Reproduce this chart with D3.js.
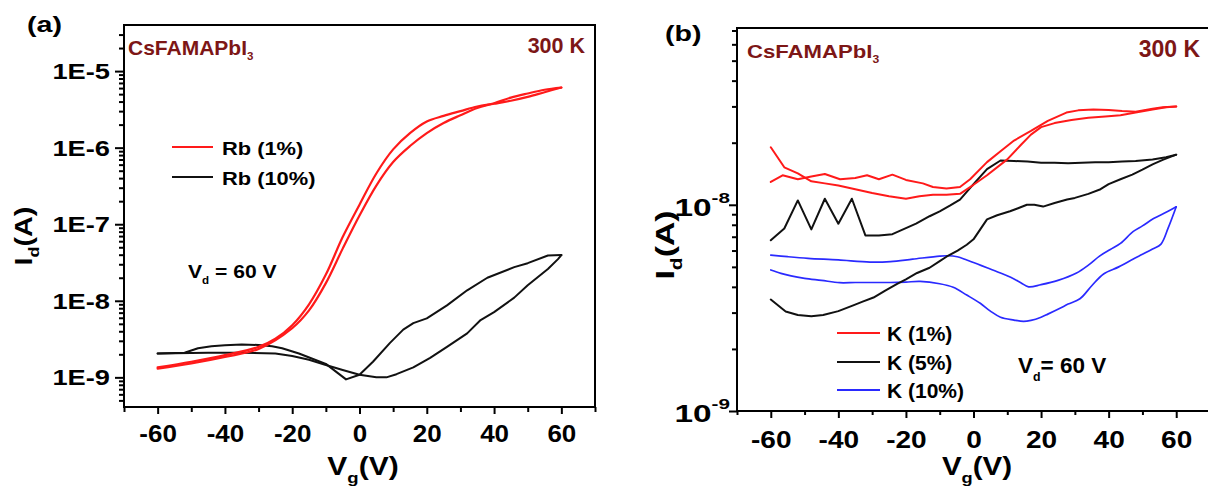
<!DOCTYPE html>
<html>
<head>
<meta charset="utf-8">
<script src="https://cdn.jsdelivr.net/npm/d3@7"></script>
<style>
  html, body { margin: 0; padding: 0; background: #fff; }
  svg { display: block; font-family: "Liberation Sans", Arial, sans-serif; font-weight: bold; }
</style>
</head>
<body>
<svg id="chart" width="1208" height="491"></svg>
<script>
// ---------- Panel (a): Rb-doped CsFAMAPbI3, transfer curves (Id vs Vg) ----------
const vgRb1Fwd = [-60, -50, -40, -30, -25, -20, -15, -10, -5, 0, 5, 10, 15, 20, 25, 30, 35, 40, 45, 50, 55, 60];
const idRb1Fwd = [1.35e-9, 1.6e-9, 1.95e-9, 2.5e-9, 3.2e-9, 4.8e-9, 9e-9, 2.2e-8, 6.8e-8, 1.8e-7, 4.6e-7, 9.5e-7, 1.55e-6, 2.2e-6, 2.6e-6, 3.0e-6, 3.45e-6, 3.75e-6, 4.1e-6, 4.6e-6, 5.3e-6, 6.1e-6];
const vgRb1Rev = [60, 55, 50, 45, 40, 35, 30, 25, 20, 15, 10, 5, 0, -5, -10, -15, -20, -30, -40, -50, -60];
const idRb1Rev = [6.1e-6, 5.7e-6, 5.1e-6, 4.5e-6, 3.8e-6, 3.3e-6, 2.65e-6, 2.1e-6, 1.55e-6, 1.05e-6, 6.5e-7, 3.2e-7, 1.3e-7, 4.8e-8, 1.7e-8, 7.5e-9, 4.4e-9, 2.35e-9, 1.85e-9, 1.52e-9, 1.3e-9];

const vgRb10Fwd = [-60, -52, -48, -44, -40, -35, -30, -26, -23, -18, -14, -10, -4, 0, 4, 9, 13, 16, 20, 26, 32, 38, 46, 50, 56, 60];
const idRb10Fwd = [2.05e-9, 2.1e-9, 2.4e-9, 2.55e-9, 2.62e-9, 2.68e-9, 2.65e-9, 2.55e-9, 2.4e-9, 2.05e-9, 1.75e-9, 1.5e-9, 0.94e-9, 1.08e-9, 1.6e-9, 2.8e-9, 4.2e-9, 5.1e-9, 5.9e-9, 8.7e-9, 1.37e-8, 2.0e-8, 2.75e-8, 3.1e-8, 3.9e-8, 3.95e-8];
const vgRb10Rev = [60, 59, 56, 50, 46, 40, 36, 32, 26, 21, 16, 11, 8, 5, 0, -5, -10, -15, -20, -25, -35, -45, -60];
const idRb10Rev = [3.95e-8, 3.5e-8, 2.6e-8, 1.6e-8, 1.1e-8, 7.1e-9, 5.6e-9, 3.75e-9, 2.5e-9, 1.8e-9, 1.35e-9, 1.1e-9, 1.0e-9, 1.0e-9, 1.08e-9, 1.25e-9, 1.45e-9, 1.7e-9, 1.9e-9, 2.05e-9, 2.1e-9, 2.1e-9, 2.05e-9];

// ---------- Panel (b): K-doped CsFAMAPbI3 ----------
const vgK1A = [-60, -56.5, -52, -48, -44, -39.5, -35, -31.5, -28, -24, -20, -15, -12, -8, -4, -1, 4, 8, 12, 17, 22, 27.5, 31, 35.5, 40, 44, 48, 53, 56, 60];
const idK1A = [1.29e-8, 1.39e-8, 1.33e-8, 1.37e-8, 1.41e-8, 1.33e-8, 1.35e-8, 1.39e-8, 1.33e-8, 1.4e-8, 1.32e-8, 1.27e-8, 1.22e-8, 1.2e-8, 1.22e-8, 1.33e-8, 1.61e-8, 1.82e-8, 2.05e-8, 2.28e-8, 2.55e-8, 2.8e-8, 2.87e-8, 2.9e-8, 2.88e-8, 2.85e-8, 2.83e-8, 2.92e-8, 2.97e-8, 3.0e-8];
const vgK1B = [-60, -56, -52, -48, -44, -40, -35, -30, -25, -20, -16, -12, -8, -4, 0, 4, 10, 14, 17, 20, 24, 29, 34, 39, 43.5, 48, 53, 57, 60];
const idK1B = [1.9e-8, 1.52e-8, 1.42e-8, 1.3e-8, 1.27e-8, 1.24e-8, 1.19e-8, 1.14e-8, 1.1e-8, 1.07e-8, 1.1e-8, 1.12e-8, 1.12e-8, 1.13e-8, 1.25e-8, 1.39e-8, 1.66e-8, 1.95e-8, 2.19e-8, 2.38e-8, 2.49e-8, 2.58e-8, 2.64e-8, 2.68e-8, 2.72e-8, 2.8e-8, 2.9e-8, 2.97e-8, 3.0e-8];

const vgK5Up = [-60, -56, -52, -48, -44, -40, -36, -32, -28, -24, -20, -17, -13, -10, -7, -4, 0, 4, 8, 12, 16, 20, 24, 28, 32, 36, 40, 44, 48, 53, 57, 60];
const idK5Up = [6.73e-9, 7.67e-9, 1.05e-8, 7.6e-9, 1.07e-8, 8.1e-9, 1.07e-8, 7.1e-9, 7.1e-9, 7.2e-9, 7.7e-9, 8.1e-9, 8.8e-9, 9.3e-9, 9.9e-9, 1.06e-8, 1.26e-8, 1.49e-8, 1.64e-8, 1.63e-8, 1.62e-8, 1.6e-8, 1.6e-8, 1.59e-8, 1.6e-8, 1.61e-8, 1.61e-8, 1.62e-8, 1.63e-8, 1.66e-8, 1.7e-8, 1.75e-8];
const vgK5Down = [60, 56, 53, 50, 47, 43.5, 40, 37.6, 34, 30, 27.7, 24, 20.6, 18, 15.8, 13, 10.8, 7, 4, 2, 0, -2, -4.7, -8, -10, -13, -16.7, -20, -22.6, -26, -29.6, -33, -35.6, -40, -44.5, -48, -52, -55.6, -60];
const idK5Down = [1.75e-8, 1.65e-8, 1.57e-8, 1.48e-8, 1.4e-8, 1.33e-8, 1.26e-8, 1.19e-8, 1.13e-8, 1.08e-8, 1.06e-8, 1.02e-8, 9.8e-9, 1.0e-8, 1.0e-8, 9.6e-9, 9.3e-9, 8.9e-9, 8.5e-9, 7.6e-9, 6.8e-9, 6.4e-9, 6.0e-9, 5.6e-9, 5.33e-9, 4.95e-9, 4.67e-9, 4.35e-9, 4.14e-9, 3.85e-9, 3.55e-9, 3.38e-9, 3.25e-9, 3.05e-9, 2.92e-9, 2.88e-9, 2.92e-9, 3.04e-9, 3.47e-9];

const vgK10Up = [-60, -55, -49, -40, -30.6, -24.6, -18, -10, -7.8, -4.8, -2, 1.2, 4, 8, 11, 14, 16.3, 20, 25, 30.5, 34, 37.3, 40.5, 43.5, 47.3, 50, 53.3, 57, 60];
const idK10Up = [5.7e-9, 5.6e-9, 5.5e-9, 5.4e-9, 5.27e-9, 5.3e-9, 5.45e-9, 5.64e-9, 5.66e-9, 5.6e-9, 5.4e-9, 5.16e-9, 4.95e-9, 4.67e-9, 4.45e-9, 4.19e-9, 4.0e-9, 4.1e-9, 4.3e-9, 4.67e-9, 5.1e-9, 5.64e-9, 6.07e-9, 6.5e-9, 7.43e-9, 7.9e-9, 8.57e-9, 9.2e-9, 9.78e-9];
const vgK10Down = [60, 57.6, 55.5, 53, 50, 47.3, 43, 38.5, 35, 31.5, 28, 25.6, 22, 20, 17, 14.8, 12, 8, 5, 2, -2, -6, -10, -15.8, -20, -24.6, -30, -35, -39.6, -45, -50, -54, -57, -60];
const idK10Down = [9.78e-9, 7.7e-9, 6.45e-9, 6.1e-9, 5.75e-9, 5.46e-9, 5.0e-9, 4.62e-9, 4.05e-9, 3.5e-9, 3.3e-9, 3.15e-9, 2.95e-9, 2.85e-9, 2.75e-9, 2.72e-9, 2.76e-9, 2.85e-9, 3.05e-9, 3.33e-9, 3.65e-9, 3.98e-9, 4.14e-9, 4.25e-9, 4.22e-9, 4.2e-9, 4.2e-9, 4.2e-9, 4.19e-9, 4.3e-9, 4.4e-9, 4.52e-9, 4.65e-9, 4.83e-9];

// Tick values
const vgTicks = [-70, -60, -50, -40, -30, -20, -10, 0, 10, 20, 30, 40, 50, 60, 70];
const vgLabelled = [-60, -40, -20, 0, 20, 40, 60];
const decadesA = [1e-9, 1e-8, 1e-7, 1e-6, 1e-5];
const decadesB = [1e-9, 1e-8];

const RED = "#ff1a1a", BLACK = "#111", BLUE = "#2a2aff", DARK_RED = "#7d1616";

const svg = d3.select("#chart");

// Text with optional sub/superscript parts; sx stretches horizontally.
function label(parent, x, y, parts, o = {}) {
  const size = o.size || 20, sx = o.sx || 1, rot = o.rotate || 0;
  const t = parent.append("text")
    .attr("transform", `translate(${x},${y}) rotate(${rot}) scale(${sx},1)`)
    .attr("text-anchor", o.anchor || "start")
    .attr("fill", o.color || "#000")
    .style("font-size", size + "px");
  let shift = 0;
  parts.forEach(p => {
    const part = typeof p === "string" ? { t: p } : p;
    let target = 0, fs = size;
    if (part.sub) { target = size * (part.off || 0.3); fs = size * (part.scale || 0.6); }
    if (part.sup) { target = -size * (part.off || 0.45); fs = size * (part.scale || 0.65); }
    t.append("tspan").text(part.t)
      .attr("dy", target - shift)
      .style("font-size", fs + "px");
    shift = target;
  });
  return t;
}

function minorTicks(decades, domain) {
  const out = [];
  decades.concat([decades[decades.length - 1] * 10, decades[0] / 10]).forEach(d => {
    for (let k = 2; k <= 9; k++) {
      const v = d * k;
      if (v > domain[0] && v < domain[1]) out.push(v);
    }
  });
  return out;
}

function panel(cfg) {
  const g = svg.append("g");
  const x = d3.scaleLinear().domain([-70, 70]).range([cfg.left, cfg.right]);
  const y = d3.scaleLog().domain(cfg.yDomain).range([cfg.bottom, cfg.top]);

  // bottom axis: ticks every 10 V, labels every 20 V
  const xMinor = g.append("g").attr("transform", `translate(0,${cfg.bottom})`)
    .call(d3.axisBottom(x).tickValues(vgTicks.filter(v => !vgLabelled.includes(v))).tickSize(cfg.xMinorLen).tickFormat(""));
  const xMajor = g.append("g").attr("transform", `translate(0,${cfg.bottom})`)
    .call(d3.axisBottom(x).tickValues(vgLabelled).tickSize(cfg.xMajorLen).tickFormat(d => String(d)));
  xMajor.selectAll("text")
    .attr("x", 0).attr("y", cfg.xLabelDy).attr("dy", 0)
    .attr("transform", `scale(${cfg.xLabelSx},1)`)
    .attr("fill", "#000")
    .style("font-size", cfg.xLabelSize + "px");

  // left axis: decades plus minor ticks
  const yMinor = g.append("g").attr("transform", `translate(${cfg.left},0)`)
    .call(d3.axisLeft(y).tickValues(minorTicks(cfg.decades, cfg.yDomain)).tickSize(cfg.yMinorLen).tickFormat(""));
  const yMajor = g.append("g").attr("transform", `translate(${cfg.left},0)`)
    .call(d3.axisLeft(y).tickValues(cfg.decades).tickSize(cfg.yMajorLen).tickFormat(""));

  [xMinor, xMajor, yMinor, yMajor].forEach(a => {
    a.select(".domain").remove();
    a.selectAll("line").attr("stroke", "#000").attr("stroke-width", 2);
  });

  // frame
  g.append("rect")
    .attr("x", cfg.left).attr("y", cfg.top)
    .attr("width", cfg.right - cfg.left).attr("height", cfg.bottom - cfg.top)
    .attr("fill", "none").attr("stroke", "#000").attr("stroke-width", 2);

  // curves
  const plot = g.append("g");
  cfg.series.forEach(s => {
    const pts = s.vg.map((v, i) => [v, s.id[i]]);
    const line = d3.line().x(d => x(d[0])).y(d => y(d[1])).curve(s.curve || d3.curveLinear);
    plot.append("path").attr("d", line(pts))
      .attr("fill", "none").attr("stroke", s.color).attr("stroke-width", s.width || 2)
      .attr("stroke-linejoin", "round").attr("stroke-linecap", "round");
  });

  return { g, x, y };
}

// ---------------- Panel (a) ----------------
const A = panel({
  left: 124, right: 595, top: 25, bottom: 407,
  yDomain: [4.1e-10, 4e-5], decades: decadesA,
  xMinorLen: 5, xMajorLen: 7, yMinorLen: 5, yMajorLen: 9,
  xLabelDy: 35, xLabelSx: 1.13, xLabelSize: 23,
  series: [
    { vg: vgRb10Fwd, id: idRb10Fwd, color: BLACK, width: 2 },
    { vg: vgRb10Rev, id: idRb10Rev, color: BLACK, width: 2 },
    { vg: vgRb1Fwd, id: idRb1Fwd, color: RED, width: 2.2, curve: d3.curveCatmullRom.alpha(0.5) },
    { vg: vgRb1Rev, id: idRb1Rev, color: RED, width: 2.2, curve: d3.curveCatmullRom.alpha(0.5) }
  ]
});
decadesA.forEach(d => {
  label(A.g, A.x.range()[0] - 14, A.y(d) + 8, ["1E" + Math.round(Math.log10(d))], { size: 22, sx: 1.24, anchor: "end" });
});
label(A.g, 27, 32, ["(a)"], { size: 22, sx: 1.3 });
label(A.g, 128, 55, ["CsFAMAPbI", { t: "3", sub: true, off: 0.25, scale: 0.55 }], { size: 21, color: DARK_RED });
label(A.g, 585, 53, ["300 K"], { size: 21.5, color: DARK_RED, anchor: "end" });
label(A.g, 363, 475, ["V", { t: "g", sub: true, off: 0.3, scale: 0.62 }, "(V)"], { size: 25, sx: 1.2, anchor: "middle" });
label(A.g, 32, 236, ["I", { t: "d", sub: true, off: 0.3, scale: 0.62 }, "(A)"], { size: 23, sx: 1.25, anchor: "middle", rotate: -90 });
label(A.g, 188, 278, ["V", { t: "d", sub: true, off: 0.35, scale: 0.55 }, " = 60 V"], { size: 18.5, sx: 1.14 });
// legend (a)
[["Rb (1%)", RED, 147], ["Rb (10%)", BLACK, 177]].forEach(([name, col, ly]) => {
  A.g.append("line").attr("x1", 172).attr("x2", 213).attr("y1", ly).attr("y2", ly)
    .attr("stroke", col).attr("stroke-width", 2);
  label(A.g, 222, ly + 7.5, [name], { size: 19, sx: 1.15 });
});

// ---------------- Panel (b) ----------------
const B = panel({
  left: 737, right: 1210, top: 28, bottom: 411,
  yDomain: [1e-9, 7.2e-8], decades: decadesB,
  xMinorLen: 4, xMajorLen: 7, yMinorLen: 5, yMajorLen: 8,
  xLabelDy: 37, xLabelSx: 1.22, xLabelSize: 23,
  series: [
    { vg: vgK10Up, id: idK10Up, color: BLUE, width: 1.7, curve: d3.curveCatmullRom.alpha(0.5) },
    { vg: vgK10Down, id: idK10Down, color: BLUE, width: 1.7, curve: d3.curveCatmullRom.alpha(0.5) },
    { vg: vgK5Up, id: idK5Up, color: BLACK, width: 2 },
    { vg: vgK5Down, id: idK5Down, color: BLACK, width: 2 },
    { vg: vgK1A, id: idK1A, color: RED, width: 2 },
    { vg: vgK1B, id: idK1B, color: RED, width: 2 }
  ]
});
decadesB.forEach(d => {
  label(B.g, B.x.range()[0] - 7, B.y(d) + 11, ["10", { t: String(Math.round(Math.log10(d))), sup: true, off: 0.55, scale: 0.62 }], { size: 23.5, sx: 1.42, anchor: "end" });
});
label(B.g, 665, 41, ["(b)"], { size: 22, sx: 1.3 });
label(B.g, 747, 58, ["CsFAMAPbI", { t: "3", sub: true, off: 0.28, scale: 0.55 }], { size: 18.6, sx: 1.19, color: DARK_RED });
label(B.g, 1200, 57, ["300 K"], { size: 23, color: DARK_RED, anchor: "end" });
label(B.g, 977, 475, ["V", { t: "g", sub: true, off: 0.3, scale: 0.62 }, "(V)"], { size: 25, sx: 1.18, anchor: "middle" });
label(B.g, 674, 245, ["I", { t: "d", sub: true, off: 0.3, scale: 0.62 }, "(A)"], { size: 26, sx: 1.3, anchor: "middle", rotate: -90 });
label(B.g, 1018, 373, ["V", { t: "d", sub: true, off: 0.35, scale: 0.55 }, "= 60 V"], { size: 22.5 });
// legend (b)
[["K (1%)", RED, 333], ["K (5%)", BLACK, 362], ["K (10%)", BLUE, 390]].forEach(([name, col, ly]) => {
  B.g.append("line").attr("x1", 837).attr("x2", 880).attr("y1", ly).attr("y2", ly)
    .attr("stroke", col).attr("stroke-width", 2);
  label(B.g, 887, ly + 7.5, [name], { size: 21 });
});
</script>
</body>
</html>
